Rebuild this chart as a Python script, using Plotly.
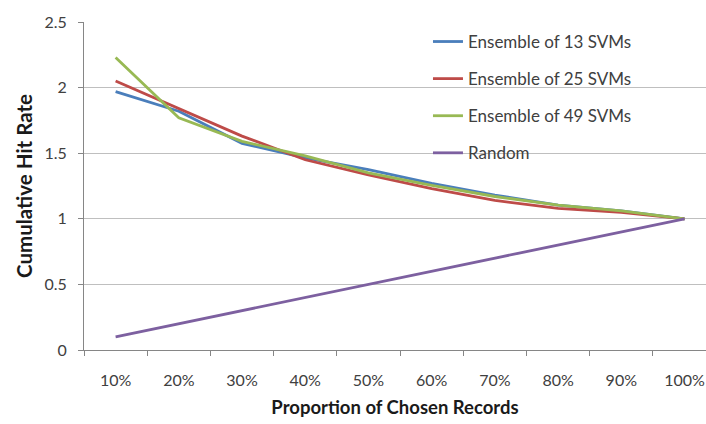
import plotly.graph_objects as go

categories = ["10%", "20%", "30%", "40%", "50%", "60%", "70%", "80%", "90%", "100%"]
svm13 = [1.97, 1.82, 1.575, 1.465, 1.375, 1.27, 1.18, 1.105, 1.06, 1.0]
svm25 = [2.05, 1.84, 1.63, 1.45, 1.335, 1.23, 1.14, 1.08, 1.05, 1.0]
svm49 = [2.23, 1.77, 1.59, 1.48, 1.35, 1.255, 1.17, 1.105, 1.06, 1.0]
random_ = [0.1, 0.2, 0.3, 0.4, 0.5, 0.6, 0.7, 0.8, 0.9, 1.0]

series = [
    ("Ensemble of 13 SVMs", svm13, "#4A7EBB"),
    ("Ensemble of 25 SVMs", svm25, "#BE4B48"),
    ("Ensemble of 49 SVMs", svm49, "#98B954"),
    ("Random", random_, "#7D60A0"),
]

FONT = "Lato"
fig = go.Figure()
for i, (name, vals, col) in enumerate(series):
    fig.add_trace(go.Scatter(x=categories, y=vals, mode="lines", name=name,
                             legendgroup=f"g{i}",
                             line=dict(color=col, width=2.8)))

fig.update_layout(
    width=706, height=424,
    margin=dict(l=84, r=0, t=22, b=74),
    paper_bgcolor="white", plot_bgcolor="white",
    font=dict(family=FONT, size=16, color="#404040"),
    showlegend=True,
    legend=dict(x=0.553, y=0.994, xanchor="left", yanchor="top",
                bgcolor="rgba(255,255,255,0)", tracegroupgap=12,
                font=dict(family=FONT, size=17, color="#404040"),
                itemwidth=30),
    xaxis=dict(type="category", range=[-0.5, 9.34], showgrid=False,
               showline=True, linecolor="#868686", linewidth=1,
               ticks="outside", tickson="boundaries", ticklen=5, tickcolor="#868686",
               ticklabelstandoff=16, ticklabeloverflow="allow",
               tickfont=dict(family=FONT, size=16, color="#404040"),
               title=dict(text="<b>Proportion of Chosen Records</b>", standoff=12,
                          font=dict(family=FONT, size=18.5, color="#1a1a1a")),
               automargin=False),
    yaxis=dict(range=[0, 2.5], tickvals=[0, 0.5, 1, 1.5, 2, 2.5],
               ticktext=["0", "0.5", "1", "1.5", "2", "2.5"],
               showgrid=True, gridcolor="#BFBFBF", gridwidth=1,
               showline=True, linecolor="#868686", linewidth=1,
               ticks="outside", ticklen=5, tickcolor="#868686",
               ticklabelstandoff=8,
               tickfont=dict(family=FONT, size=16, color="#404040"),
               title=dict(text="<b>Cumulative Hit Rate</b>", standoff=6,
                          font=dict(family=FONT, size=20.5, color="#1a1a1a")),
               zeroline=False, automargin=False),
)

fig.write_html(
    "out.html",
    config={"displayModeBar": False},
    post_script="document.body.style.margin='0';document.body.style.overflow='hidden';",
)
